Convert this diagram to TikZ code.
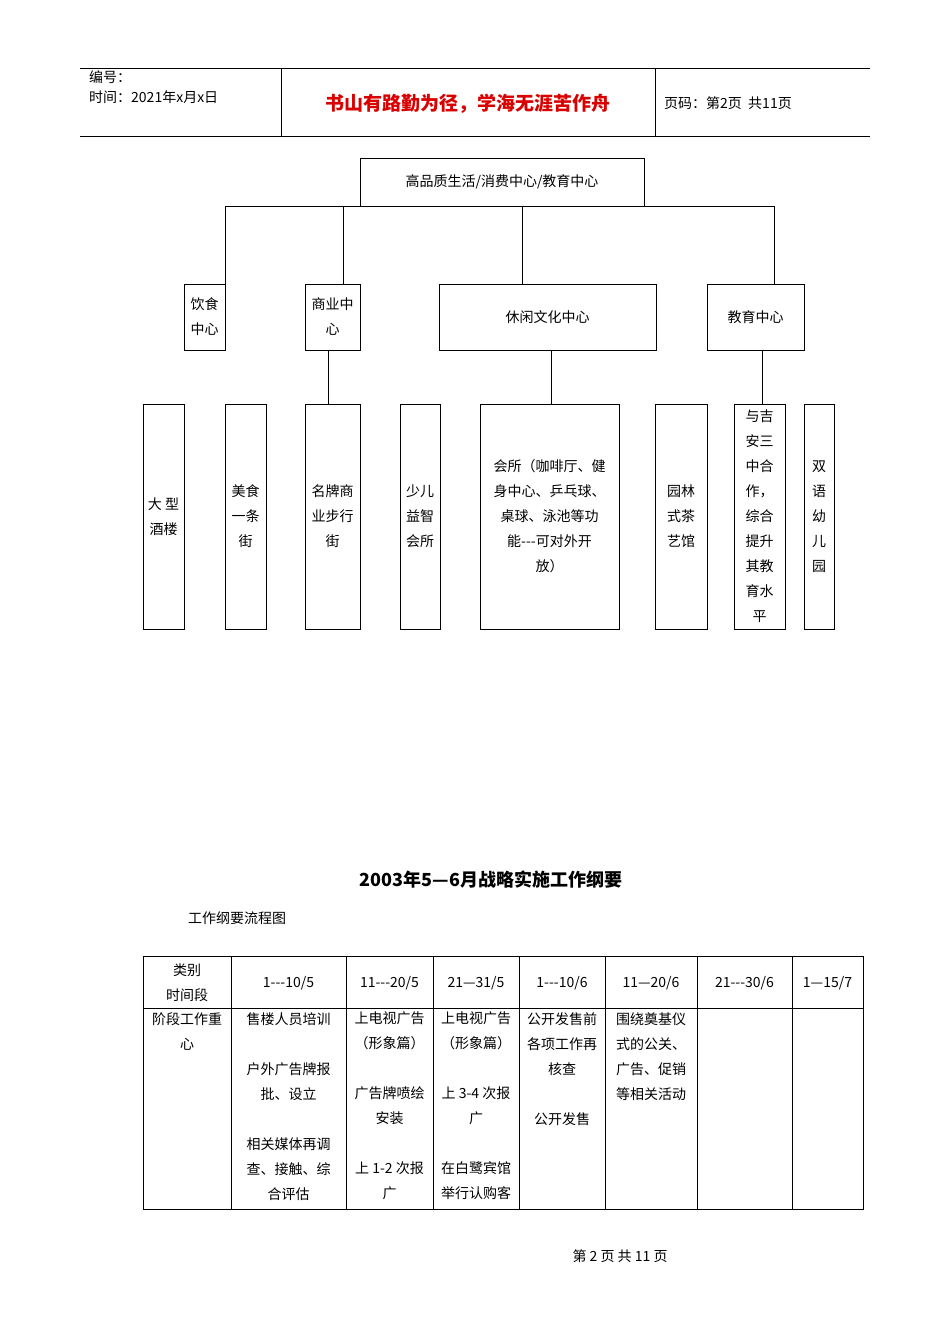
\documentclass[tikz,border=0pt]{standalone}
\usepackage{fontspec}
\setmainfont{Noto Sans CJK SC}
\begin{document}
\begin{tikzpicture}[x=1pt,y=-1pt,
  box/.style={draw,line width=0.6pt},
  ln/.style={line width=0.6pt},
  t/.style={font=\fontsize{14}{25}\selectfont,align=center,inner sep=0pt},
  tl/.style={font=\fontsize{14}{25}\selectfont,align=left,inner sep=0pt,anchor=north west}]
\useasboundingbox (0,0) rectangle (950,1344);
% header
\draw[ln] (80,68) -- (870,68) (80,136) -- (870,136) (281,68) -- (281,136) (655,68) -- (655,136);
\node[tl,font=\fontsize{14}{20}\selectfont] (hl) at (89,70) {编号：\\时间：2021年x月x日};
\node[t,font=\bfseries\fontsize{19}{22}\selectfont,text=red!85!black] (hm) at (468,104) {书山有路勤为径，学海无涯苦作舟};
\node[t,anchor=west,font=\fontsize{14}{20}\selectfont] (hr) at (664,103) {页码：第2页\ \ 共11页};
% org chart
\node[box,t,minimum width=284,minimum height=48] (top) at (502,182) {高品质生活/消费中心/教育中心};
\node[box,t,minimum width=41,minimum height=66] (ys) at (204.5,317) {饮食\\中心};
\node[box,t,minimum width=55,minimum height=66] (sy) at (332.5,317) {商业中\\心};
\node[box,t,minimum width=217,minimum height=66] (xx) at (547.5,317) {休闲文化中心};
\node[box,t,minimum width=97,minimum height=66] (jy) at (755.5,317) {教育中心};
\draw[ln] (225,284) |- (774,206) -- (774,284);
\draw[ln] (343,206) -- (343,284) (522,206) -- (522,284);
\foreach \n/\x/\w/\txt in {b1/163.5/41/{大 型\\酒楼},b2/245.5/41/{美食\\一条\\街},b3/332.5/55/{名牌商\\业步行\\街},b4/420/40/{少儿\\益智\\会所},b5/549.5/139/{会所（咖啡厅、健\\身中心、乒乓球、\\桌球、泳池等功\\能{-}{-}{-}可对外开\\放）},b6/681/52/{园林\\式茶\\艺馆},b7/759.5/51/{与吉\\安三\\中合\\作，\\综合\\提升\\其教\\育水\\平},b8/819/30/{双\\语\\幼\\儿\\园}}
  \node[box,t,minimum width=\w,minimum height=225] (\n) at (\x,516.5) {\txt};
\draw[ln] (328,350) -- (328,404) (551,350) -- (551,404) (762,350) -- (762,404);
% title
\node[t,font=\bfseries\fontsize{18}{22}\selectfont] (title) at (491,880) {2003年5—6月战略实施工作纲要};
\node[t,anchor=west] (sub) at (188,918) {工作纲要流程图};
% table
\draw[ln] (143,956) rectangle (863,1209) (143,1008) -- (863,1008);
\foreach \x in {231,346,433,519,605,697,792} \draw[ln] (\x,956) -- (\x,1209);
\node[t] (h0) at (187,983) {类别\\时间段};
\foreach \n/\x/\txt in {h1/288.5/{1{-}{-}{-}10/5},h2/389.5/{11{-}{-}{-}20/5},h3/476/{21—31/5},h4/562/{1{-}{-}{-}10/6},h5/651/{11—20/6},h6/744.5/{21{-}{-}{-}30/6},h7/827.5/{1—15/7}}
  \node[t] (\n) at (\x,983) {\txt};
\node[t,anchor=north] (c0) at (187,1012) {阶段工作重\\心};
\node[t,anchor=north] (c1) at (288.5,1012) {售楼人员培训\\ \\户外广告牌报\\批、设立\\ \\相关媒体再调\\查、接触、综\\合评估};
\node[t,anchor=north] (c2) at (389.5,1012) {上电视广告\\（形象篇）\\ \\广告牌喷绘\\安装\\ \\上 1-2 次报\\广};
\node[t,anchor=north] (c3) at (476,1012) {上电视广告\\（形象篇）\\ \\上 3-4 次报\\广\\ \\在白鹭宾馆\\举行认购客};
\node[t,anchor=north] (c4) at (562,1012) {公开发售前\\各项工作再\\核查\\ \\公开发售};
\node[t,anchor=north] (c5) at (651,1012) {围绕奠基仪\\式的公关、\\广告、促销\\等相关活动};
% footer
\node[t] (foot) at (620,1256) {第\ 2\ 页\ 共\ 11\ 页};
\end{tikzpicture}
\end{document}
